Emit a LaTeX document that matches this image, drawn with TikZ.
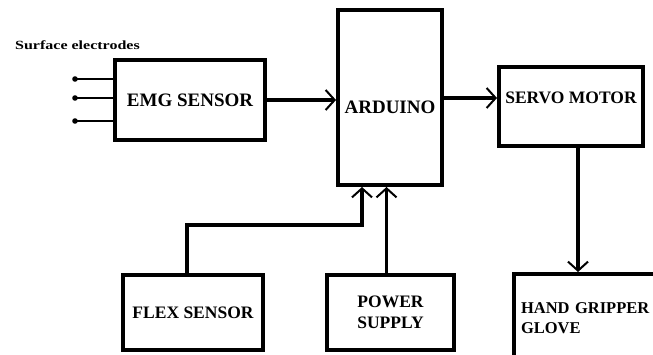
\documentclass[tikz,border=0pt]{standalone}
\usepackage{graphicx}
\usepackage{fontspec}
\setmainfont{Liberation Serif}
\usetikzlibrary{arrows.meta, positioning}

\begin{document}
\begin{tikzpicture}[x=1pt, y=-1pt,
  font=\bfseries\fontsize{17.5}{21}\selectfont,
  bigtext/.style={font=\bfseries\fontsize{19}{22}\selectfont},
  blockbox/.style={draw, line width=4pt, rectangle, inner sep=5pt},
  sigline/.style={line width=3.5pt, -{Straight Barb[length=9pt, width=20pt, line width=2pt]}},
  wire/.style={line width=2.5pt}]
\path[use as bounding box, clip] (0,0) rectangle (653,355);
% Blocks
\node[blockbox, bigtext, minimum width=150pt, minimum height=80pt] (emg) at (190,100) {EMG SENSOR};
\node[blockbox, minimum width=104pt, minimum height=175pt,
  label={[name=ardtxt, bigtext, yshift=-9.5pt]center:ARDUINO}] (arduino) at (390,97.5) {};
\node[blockbox, minimum width=144pt, minimum height=79pt,
  label={[name=servotxt, yshift=8.5pt]center:SERVO MOTOR}] (servo) at (571,106.5) {};
\node[blockbox, minimum width=140pt, minimum height=75pt] (flex) at (193,312.5) {FLEX SENSOR};
\node[blockbox, minimum width=127pt, minimum height=75pt, align=center] (power) at (390.5,312.5) {POWER\\SUPPLY};
\node[blockbox, anchor=north west, minimum width=170pt, minimum height=88pt, inner xsep=7pt, inner ysep=2pt,
  font=\bfseries\fontsize{16.5}{20}\selectfont, text width=156pt, align=left] (glove) at (512,272) {HAND GRIPPER\\GLOVE};
% Electrodes
\node[font=\bfseries\fontsize{12.5}{15}\selectfont, anchor=west, inner sep=0pt] (surf) at (15,45)
  {\scalebox{1.28}[1]{Surface electrodes}};
\foreach \y [count=\i] in {79,98,121} {
  \coordinate (el\i) at (75,\y);
  \fill (el\i) circle (2.8);
  \draw[wire] (el\i) -- (el\i -| emg.west);
}
% Signals
\draw[sigline] (emg.east) -- (arduino.west |- emg.east);
\draw[sigline] (arduino.east |- servotxt) -- (servo.west |- servotxt);
\draw[sigline] ([xshift=7pt]servo.south) -- ([xshift=7pt]servo.south |- glove.north);
\draw[sigline] ([xshift=-6pt]flex.north) -- ++(0,-48) -| ([xshift=-28pt]arduino.south);
\draw[sigline] ([xshift=-4pt]power.north) -- ([xshift=-4pt]power.north |- arduino.south);
\end{tikzpicture}
\end{document}
